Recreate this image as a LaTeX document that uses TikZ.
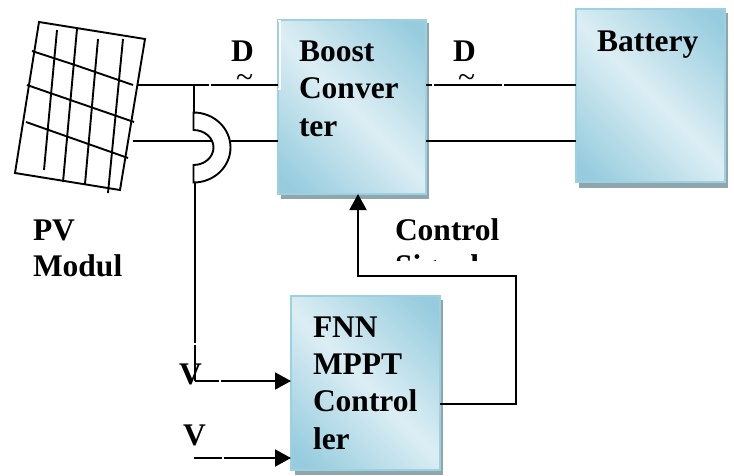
\documentclass[tikz,border=0pt]{standalone}
\usepackage{fontspec}
\setmainfont{Liberation Serif}
\usetikzlibrary{arrows.meta}
\definecolor{boxdark}{HTML}{96CCDE}
\definecolor{boxlight}{HTML}{DCEEF4}
\definecolor{boxedge}{HTML}{9DD0E1}
\definecolor{boxshadow}{HTML}{8FA6AD}
\pgfdeclarehorizontalshading{boxshade}{100bp}{color(0bp)=(boxdark); color(19bp)=(boxdark); color(50bp)=(boxlight); color(81bp)=(boxdark); color(100bp)=(boxdark)}
\tikzset{
  x=1pt,y=-1pt,
  wire/.style={line width=1.9pt,line cap=butt,black},
  arrowwire/.style={wire,-{Triangle[length=16pt,width=17pt]}},
  pvline/.style={line width=1.9pt,line cap=butt,line join=miter,black},
  gap/.style={white,line width=2.4pt},
  block/.style={draw=boxedge,line width=2.4pt,shading=boxshade,shading angle=45,minimum width=#1,inner sep=0pt,outer sep=0pt,anchor=north west},
  shadowbox/.style={fill=boxshadow},
  lbl/.style={font=\fontsize{31.5}{38}\selectfont\bfseries,anchor=base west,inner sep=0pt,outer sep=0pt},
  tildelbl/.style={font=\fontsize{31.5}{38}\selectfont,anchor=base west,inner sep=0pt,outer sep=0pt}
}
\begin{document}
\begin{tikzpicture}
\useasboundingbox (0,0) rectangle (734,475);
\fill[white] (0,0) rectangle (734,475);
% shadows
\fill[shadowbox] (281,23) rectangle (429,199);
\fill[shadowbox] (579,13) rectangle (728,188);
\fill[shadowbox] (295,300) rectangle (443,475);
% blocks
\node[block=148pt,minimum height=174pt] (boost) at (278,20) {};
\node[block=149pt,minimum height=173pt] (battery) at (576,9) {};
\node[block=149pt,minimum height=174pt] (fnn) at (291,296) {};
\draw[white,line width=1.2pt] (277.5,21) -- (280,21) -- (280,89) -- (277.5,89);
% PV panel
\coordinate (pvA) at (39,22);
\coordinate (pvB) at (145,39);
\coordinate (pvC) at (120,190);
\coordinate (pvD) at (15,173);
\draw[pvline] (pvA) -- (pvB) -- (pvC) -- (pvD) -- cycle;
\draw[pvline] (57,30) -- (44,170);
\draw[pvline] (77,29) -- (63,182);
\draw[pvline] (98,39) -- (85,184);
\draw[pvline] (123,39) -- (108,193);
\draw[pvline] (32,51) -- (75,65) -- (133,85);
\draw[pvline] (27,85) -- (134,122);
\draw[pvline] (26,122) -- (128,158);
% wires
\coordinate (pvout1) at (137,85);
\coordinate (pvout2) at (133,141);
\coordinate (tap) at (194,85);
\coordinate (humptop) at (194,113);
\coordinate (humpin) at (213,141);
\coordinate (humpout) at (231,141);
\coordinate (humpbot) at (195,182);
\coordinate (vin) at (195,381);
\coordinate (vstart) at (194,458);
\coordinate (fbcorner1) at (516,404);
\coordinate (fbcorner2) at (516,276);
\coordinate (fbcorner3) at (358,276);
\draw[wire] (pvout1) -- (boost.west |- pvout1);
\draw[wire] (humpout) -- (boost.west |- humpout);
\draw[wire] (boost.east |- pvout1) -- (battery.west |- pvout1);
\draw[wire] (boost.east |- pvout2) -- (battery.west |- pvout2);
\draw[wire] (tap) -- (humptop);
\draw[pvline,fill=white] (193.5,112.5) arc[start angle=90,end angle=-90,x radius=37,y radius=-35] -- (193.5,165) arc[start angle=-90,end angle=90,x radius=20,y radius=-17.5] -- cycle;
\draw[wire] (pvout2) -- (humpin);
\draw[wire] (humpbot) -- (vin);
\draw[arrowwire] (vin) -- (fnn.west |- vin);
\draw[arrowwire] (vstart) -- (fnn.west |- vstart);
\draw[wire,-{Triangle[length=16pt,width=17pt]},line join=miter] (fnn.east |- fbcorner1) -- (fbcorner1) -- (fbcorner2) -- (fbcorner3) -- (boost.south -| fbcorner3);
% small breaks in the lines
\draw[gap] (210,83.5) -- (210,86.5);
\draw[gap] (433,83.5) -- (433,86.5);
\draw[gap] (503,83.5) -- (503,86.5);
\draw[gap] (220,379.5) -- (220,382.5);
\draw[gap] (223,456.5) -- (223,459.5);
\draw[white,line width=1.4pt] (193.5,344) -- (196.5,344);
% labels
\node[lbl] (lD1) at (231,61) {D};
\node[lbl] (lD2) at (453,61) {D};
\node[tildelbl] (lc1) at (236,87) {\char"007E};
\node[tildelbl] (lc2) at (458,87) {\char"007E};
\node[lbl] (t1) at (299,61) {Boost};
\node[lbl] (t2) at (299,98) {Conver};
\node[lbl] (t3) at (299,136) {ter};
\node[lbl] (t4) at (597,51) {Battery};
\node[lbl] (t5) at (395,240) {Control};
\begin{scope}
\clip (390,250) rectangle (490,260);
\node[lbl] (t6) at (395,276) {Signal};
\end{scope}
\node[lbl] (t7) at (33,240) {PV};
\node[lbl] (t8) at (33,276) {Modul};
\node[lbl] (t9) at (313,337) {FNN};
\node[lbl] (t10) at (313,374) {MPPT};
\node[lbl] (t11) at (313,411) {Control};
\node[lbl] (t12) at (313,449) {ler};
\node[lbl] (v1) at (179,384) {V};
\node[lbl] (v2) at (183,445) {V};
\end{tikzpicture}
\end{document}
